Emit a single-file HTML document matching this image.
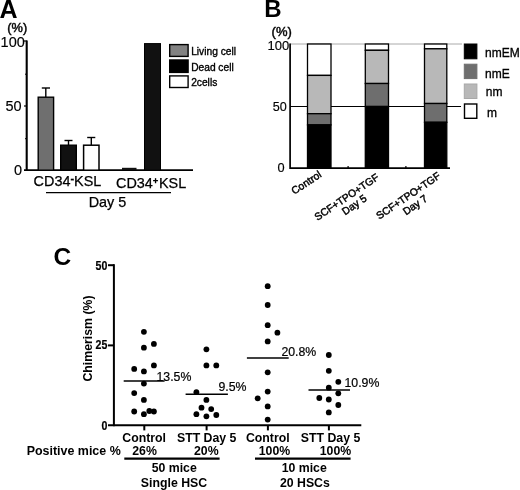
<!DOCTYPE html>
<html>
<head>
<meta charset="utf-8">
<style>
html,body{margin:0;padding:0;background:#fff;}
body{width:520px;height:490px;overflow:hidden;}
svg{display:block;filter:blur(0.45px);font-family:"Liberation Sans",sans-serif;fill:#000;}
.b{font-weight:bold;}
</style>
</head>
<body>
<svg width="520" height="490" viewBox="0 0 520 490">
<rect width="520" height="490" fill="#fff"/>

<!-- ================= Panel A ================= -->
<g id="pA">
<text x="-0.5" y="18" class="b" font-size="25">A</text>
<text x="7.3" y="32" font-size="12.8" stroke="#000" stroke-width="0.45">(%)</text>
<g font-size="14.5" text-anchor="end" stroke="#000" stroke-width="0.15">
<text x="24.8" y="47.2">100</text>
<text x="21.7" y="111">50</text>
<text x="22.2" y="175.4">0</text>
</g>
<line x1="26.7" y1="40.5" x2="26.7" y2="171" stroke="#000" stroke-width="2.1"/>
<line x1="24" y1="41" x2="27" y2="41" stroke="#000" stroke-width="1.2"/>
<line x1="24" y1="106" x2="27" y2="106" stroke="#000" stroke-width="1.2"/>
<line x1="25" y1="74.2" x2="27" y2="74.2" stroke="#000" stroke-width="1"/>
<line x1="25" y1="138.7" x2="27" y2="138.7" stroke="#000" stroke-width="1"/>
<line x1="24" y1="170.1" x2="193" y2="170.1" stroke="#000" stroke-width="1.9"/>
<!-- bars -->
<g stroke="#000" stroke-width="1.4">
<line x1="45.8" y1="88" x2="45.8" y2="97"/><line x1="41.8" y1="88" x2="50" y2="88"/>
<rect x="38.2" y="97.2" width="15.4" height="73" fill="#6f6f6f"/>
<line x1="68.5" y1="140.5" x2="68.5" y2="145"/><line x1="64.5" y1="140.5" x2="72.5" y2="140.5"/>
<rect x="60.7" y="145.2" width="15.6" height="25" fill="#111"/>
<line x1="91.3" y1="137.5" x2="91.3" y2="145"/><line x1="87.2" y1="137.5" x2="95.3" y2="137.5"/>
<rect x="83.6" y="145.2" width="15.4" height="25" fill="#fff" stroke-width="1.5"/>
<rect x="122" y="167.8" width="14.5" height="2.2" fill="#111" stroke="none"/>
<rect x="144.5" y="43.6" width="16" height="126.6" fill="#111" stroke-width="1"/>
</g>
<!-- labels -->
<g font-size="14.4" stroke="#000" stroke-width="0.25">
<text x="33.6" y="186.4">CD34<tspan font-size="11" dy="-4" font-weight="bold">-</tspan><tspan dy="4">KSL</tspan></text>
<text x="116" y="188">CD34<tspan font-size="9.5" dy="-4" font-weight="bold">+</tspan><tspan dy="4" dx="0.6">KSL</tspan></text>
<text x="88.7" y="206.7">Day 5</text>
</g>
<line x1="46" y1="192.6" x2="171" y2="192.6" stroke="#000" stroke-width="1.3"/>
<!-- legend -->
<g stroke="#000" stroke-width="1.4">
<rect x="169.7" y="44.6" width="18.4" height="11.8" fill="#828282"/>
<rect x="169.7" y="60" width="18.4" height="12.4" fill="#000"/>
<rect x="169.7" y="75.9" width="18.4" height="11.6" fill="#fff"/>
</g>
<g font-size="10.2" stroke="#000" stroke-width="0.35">
<text x="191.2" y="54.9">Living cell</text>
<text x="191.2" y="70.5">Dead cell</text>
<text x="191.2" y="86.2">2cells</text>
</g>
</g>

<!-- ================= Panel B ================= -->
<g id="pB">
<text x="264.3" y="16.7" class="b" font-size="24">B</text>
<text x="271.6" y="36" font-size="13" stroke="#000" stroke-width="0.45">(%)</text>
<g font-size="13" text-anchor="end" stroke="#000" stroke-width="0.15">
<text x="289.2" y="50.1">100</text>
<text x="286.8" y="110.7" font-size="12.6">50</text>
<text x="284.6" y="172.2" font-size="12.8">0</text>
</g>
<line x1="290" y1="44" x2="462" y2="44" stroke="#aaa" stroke-width="1"/>
<line x1="290" y1="106.5" x2="461" y2="106.5" stroke="#000" stroke-width="1"/>
<line x1="290.1" y1="43.5" x2="290.1" y2="169" stroke="#000" stroke-width="1.7"/>
<line x1="290" y1="168.2" x2="450" y2="168.2" stroke="#000" stroke-width="1.8"/>
<rect x="347.5" y="166" width="1.2" height="2" fill="#000"/><rect x="405.3" y="166" width="1.2" height="2" fill="#000"/>
<!-- bar 1 -->
<g stroke="#000" stroke-width="1.3">
<rect x="307.5" y="44" width="23.5" height="31.4" fill="#fff"/>
<rect x="307.5" y="75.4" width="23.5" height="38.3" fill="#b8b8b8"/>
<rect x="307.5" y="113.7" width="23.5" height="11.2" fill="#6e6e6e"/>
<rect x="307.5" y="124.9" width="23.5" height="43.1" fill="#000"/>
<!-- bar 2 -->
<rect x="365.3" y="44" width="23.2" height="6.3" fill="#fff"/>
<rect x="365.3" y="50.3" width="23.2" height="33.2" fill="#b8b8b8"/>
<rect x="365.3" y="83.5" width="23.2" height="23" fill="#6e6e6e"/>
<rect x="365.3" y="106.5" width="23.2" height="61.5" fill="#000"/>
<!-- bar 3 -->
<rect x="424.5" y="44" width="22.3" height="4.8" fill="#fff"/>
<rect x="424.5" y="48.8" width="22.3" height="54.7" fill="#b8b8b8"/>
<rect x="424.5" y="103.5" width="22.3" height="18.8" fill="#6e6e6e"/>
<rect x="424.5" y="122.3" width="22.3" height="45.7" fill="#000"/>
</g>
<!-- rotated labels -->
<g font-size="10.4" text-anchor="end" stroke="#000" stroke-width="0.45">
<text transform="translate(322.3,176.3) rotate(-33.5)">Control</text>
<text transform="translate(379.8,179) rotate(-34)">SCF+TPO+TGF</text>
<text transform="translate(367.5,200) rotate(-34.5)">Day 5</text>
<text transform="translate(441.3,177.5) rotate(-34.3)">SCF+TPO+TGF</text>
<text transform="translate(428.3,200.2) rotate(-34.5)">Day 7</text>
</g>
<!-- legend -->
<rect x="464.3" y="44" width="12.6" height="14.8" fill="#000" stroke="#000" stroke-width="1"/>
<rect x="464.3" y="64.2" width="12.6" height="14.4" fill="#6e6e6e" stroke="#6e6e6e" stroke-width="1"/>
<rect x="464.3" y="84" width="12.6" height="14.5" fill="#b8b8b8" stroke="#a8a8a8" stroke-width="1"/>
<rect x="464.5" y="104" width="12.3" height="14.3" fill="#fff" stroke="#000" stroke-width="1.4"/>
<g font-size="12" stroke="#000" stroke-width="0.3">
<text x="485" y="56.6">nmEM</text>
<text x="485" y="77.5">nmE</text>
<text x="485.8" y="96.2">nm</text>
<text x="487" y="116.5">m</text>
</g>
</g>

<!-- ================= Panel C ================= -->
<g id="pC">
<text x="53.5" y="264.7" class="b" font-size="24.5">C</text>
<g font-size="12.8" class="b" text-anchor="end" stroke="#000" stroke-width="0.2">
<text transform="translate(107.3,270.3) scale(0.83,1)">50</text>
<text transform="translate(107.3,349) scale(0.83,1)">25</text>
<text transform="translate(107.3,429.7) scale(0.83,1)">0</text>
</g>
<text transform="translate(92.2,338.5) rotate(-90)" text-anchor="middle" class="b" font-size="12.3">Chimerism (%)</text>
<g stroke="#000" stroke-width="2">
<line x1="113.9" y1="264.2" x2="113.9" y2="426.2"/>
<line x1="108" y1="265.2" x2="114" y2="265.2"/>
<line x1="108" y1="345.4" x2="114" y2="345.4"/>
<line x1="108" y1="425.2" x2="361.3" y2="425.2"/>
<line x1="144.3" y1="425" x2="144.3" y2="430.4"/>
<line x1="206.6" y1="425" x2="206.6" y2="430.4"/>
<line x1="267.9" y1="425" x2="267.9" y2="430.4"/>
<line x1="328.9" y1="425" x2="328.9" y2="430.4"/>
</g>
<!-- mean lines -->
<g stroke="#000" stroke-width="1.5">
<line x1="123.7" y1="381" x2="164.6" y2="381"/>
<line x1="185.6" y1="394.3" x2="227.9" y2="394.3"/>
<line x1="246.9" y1="358.1" x2="288.7" y2="358.1"/>
<line x1="308.5" y1="390.1" x2="350" y2="390.1"/>
</g>
<g font-size="12.3" stroke="#000" stroke-width="0.2">
<text x="156.5" y="380.7">13.5%</text>
<text x="218.5" y="390.7">9.5%</text>
<text x="281.4" y="355.5">20.8%</text>
<text x="344.5" y="386.6">10.9%</text>
</g>
<!-- dots -->
<g>
<!-- g1 -->
<circle cx="143.9" cy="331.8" r="2.9"/>
<circle cx="153.9" cy="343.9" r="2.9"/>
<circle cx="143.9" cy="347.7" r="2.9"/>
<circle cx="153.9" cy="365.4" r="2.9"/>
<circle cx="134.2" cy="368.9" r="2.9"/>
<circle cx="143.9" cy="371.4" r="2.9"/>
<circle cx="143.9" cy="383.6" r="2.9"/>
<circle cx="134.2" cy="393.1" r="2.9"/>
<circle cx="143.9" cy="399.9" r="2.9"/>
<circle cx="134.2" cy="411.5" r="2.9"/>
<circle cx="143.9" cy="414.2" r="2.9"/>
<circle cx="149.3" cy="411" r="2.9"/>
<circle cx="153.9" cy="411.5" r="2.9"/>
<!-- g2 -->
<circle cx="206.4" cy="349.3" r="2.9"/>
<circle cx="206.4" cy="365.4" r="2.9"/>
<circle cx="216.3" cy="365.4" r="2.9"/>
<circle cx="196.4" cy="392.2" r="2.9"/>
<circle cx="206.4" cy="399.9" r="2.9"/>
<circle cx="201.5" cy="407.7" r="2.9"/>
<circle cx="211.2" cy="409.1" r="2.9"/>
<circle cx="196.4" cy="414.2" r="2.9"/>
<circle cx="206.4" cy="416.3" r="2.9"/>
<circle cx="216.3" cy="415" r="2.9"/>
<!-- g3 -->
<circle cx="267.7" cy="286.2" r="2.9"/>
<circle cx="267.7" cy="305" r="2.9"/>
<circle cx="267.7" cy="325.2" r="2.9"/>
<circle cx="277.4" cy="332.7" r="2.9"/>
<circle cx="267.7" cy="341.4" r="2.9"/>
<circle cx="267.7" cy="372.3" r="2.9"/>
<circle cx="267.7" cy="391.6" r="2.9"/>
<circle cx="257.7" cy="398.3" r="2.9"/>
<circle cx="267.7" cy="406.4" r="2.9"/>
<circle cx="267.7" cy="419.6" r="2.9"/>
<!-- g4 -->
<circle cx="328.8" cy="355" r="2.9"/>
<circle cx="328.8" cy="370.8" r="2.9"/>
<circle cx="338.3" cy="381.8" r="2.9"/>
<circle cx="328.8" cy="387.7" r="2.9"/>
<circle cx="338.3" cy="393.3" r="2.9"/>
<circle cx="319.3" cy="398" r="2.9"/>
<circle cx="328.8" cy="399.5" r="2.9"/>
<circle cx="338.3" cy="405" r="2.9"/>
<circle cx="328.8" cy="412.4" r="2.9"/>
</g>
<!-- x labels -->
<g font-size="12.3" class="b" text-anchor="middle">
<text x="144.2" y="441.9">Control</text>
<text x="206.7" y="441.9">STT Day 5</text>
<text x="267.8" y="441.9">Control</text>
<text x="330.5" y="441.9">STT Day 5</text>
<text x="144.6" y="454.9">26%</text>
<text x="206.3" y="454.9">20%</text>
<text x="274.5" y="454.9">100%</text>
<text x="335.5" y="454.9">100%</text>
<text x="174.2" y="472.2">50 mice</text>
<text x="174" y="487.3">Single HSC</text>
<text x="304.2" y="472.2">10 mice</text>
<text x="304.9" y="487.3">20 HSCs</text>
</g>
<text x="26.7" y="455.3" class="b" font-size="12.45">Positive mice %</text>
<line x1="124.3" y1="458.6" x2="219.6" y2="458.6" stroke="#000" stroke-width="2.2"/>
<line x1="255" y1="458.6" x2="350.6" y2="458.6" stroke="#000" stroke-width="2.2"/>
</g>
</svg>
</body>
</html>
